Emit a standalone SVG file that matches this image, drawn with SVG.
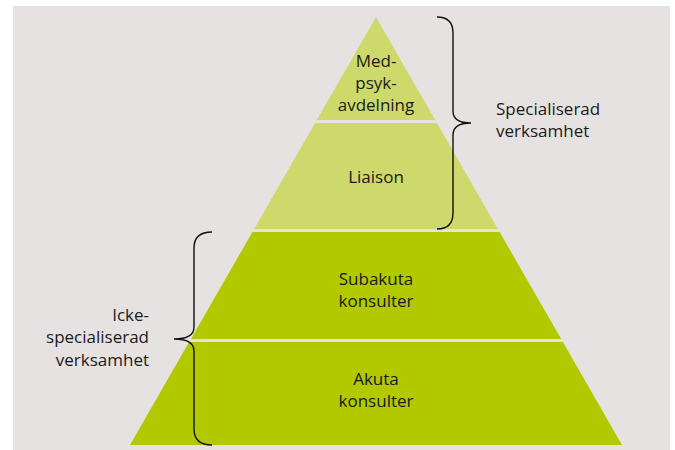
<svg xmlns="http://www.w3.org/2000/svg" width="675" height="450" viewBox="0 0 675 450">
<style>
.t{font-family:"Open Sans","Liberation Sans",sans-serif;font-size:17px;fill:#1a1a1a}
.c{text-anchor:middle}
.r{text-anchor:end}
.light{fill:#cdd96b}
.dark{fill:#b2c900}
.brace{fill:none;stroke:#111;stroke-width:1.4}
</style>
<rect x="0" y="0" width="675" height="450" fill="#fff"/>
<rect x="13" y="6" width="657" height="444" fill="#e7e2e2"/>
<g id="medpsyk">
<polygon class="light" points="376,17 435.2,120 316.8,120"/>
<text class="t c" x="376" y="67">Med-</text>
<text class="t c" x="376" y="89">psyk-</text>
<text class="t c" x="376" y="111">avdelning</text>
</g>
<g id="liaison">
<polygon class="light" points="315.1,123 436.9,123 497.9,229 254.1,229"/>
<text class="t c" x="376" y="183">Liaison</text>
</g>
<g id="subakuta">
<polygon class="dark" points="252.4,232 499.6,232 561.2,339 190.9,339"/>
<text class="t c" x="376" y="285">Subakuta</text>
<text class="t c" x="376" y="307">konsulter</text>
</g>
<g id="akuta">
<polygon class="dark" points="189.1,342 562.9,342 622,445 130,445"/>
<text class="t c" x="376" y="385">Akuta</text>
<text class="t c" x="376" y="407">konsulter</text>
</g>
<g id="connectors">
<path class="brace" d="M437,17 Q453,17 453,33 L453,111 Q453,123 471,123 Q453,123 453,135 L453,213 Q453,229 437,229"/>
<path class="brace" d="M212,232 Q194,232 194,248 L194,327 Q194,339 174,339 Q194,339 194,351 L194,429 Q194,445 212,445"/>
</g>
<g id="specialiserad">
<text class="t" x="496" y="115">Specialiserad</text>
<text class="t" x="496" y="137">verksamhet</text>
</g>
<g id="icke">
<text class="t r" x="149" y="321">Icke-</text>
<text class="t r" x="149" y="343">specialiserad</text>
<text class="t r" x="149" y="366">verksamhet</text>
</g>
</svg>
